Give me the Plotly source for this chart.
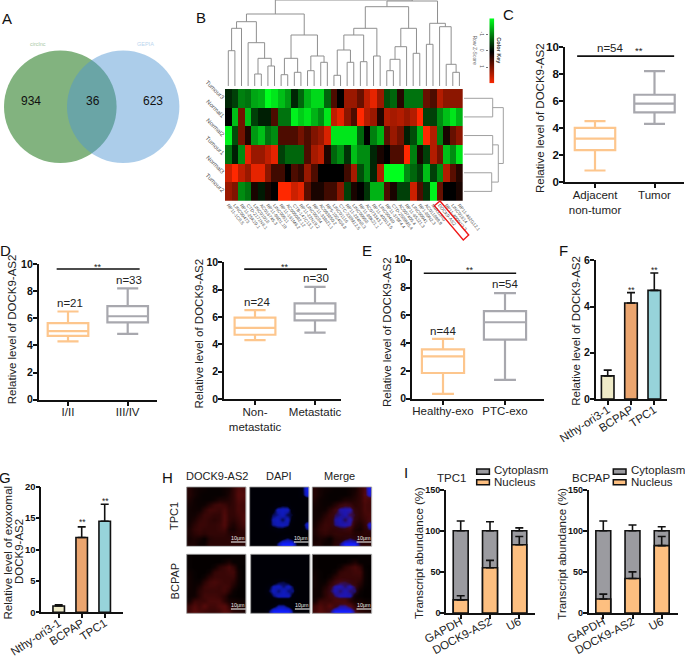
import plotly.graph_objects as go

W, H = 685, 657
FONT = "Liberation Sans"
INK = "#222222"
ORANGE = "#FDC68D"
GREY = "#A8A8AE"

# ---------- data ----------
VENN_COUNTS = ["934", "36", "623"]
VENN_NAMES = ["circlnc", "GEPIA"]
Y_TITLE = "Relative level of DOCK9-AS2"

HEAT_ROWS = ["Tumour3", "Normal1", "Normal2", "Tumour1", "Normal3", "Tumour2"]
HEAT_COLS = ["RP11-1C8.5", "LINC00473", "RP11-25K19.1", "CTD-2171N6.1", "LINC01018", "AC016745.3",
             "RP11-96D1.10", "LINC00511", "RP11-161M6.2", "AC005082.12", "CTB-147C13.1", "RP11-22N19.2",
             "LINC00284", "RP11-338I21.1", "AC093850.2", "RP5-1024G6.8", "LINC01116", "CTC-338M12.5",
             "RP11-284N8.3", "LINC00958", "RP11-89K21.1", "AC073343.1", "RP11-403I13.5", "LINC00460",
             "RP11-379F4.4", "CTD-2589M5.4", "AC007405.4", "RP11-65J21.3", "LINC00941", "RP1-80N2.3",
             "AC011899.9", "MIR31HG", "DOCK9-AS2", "RP11-400N13.3", "LINC01614", "RP11-462G12.1"]
HEAT_Z = [
    [.15, .25, .5, .45, .65, .7, 1, .9, .75, .6, .15, .4, .7, .85, .85, .4, -.3, 0, -.6, -.6, -.4, -.75, -.9, -.6, .3, .4, -.15, .45, .45, .45, -.4, -.3, -.7, -.55, -.55, -.55],
    [0, .75, -.45, .75, .25, .12, .12, -.3, .45, .45, .95, .8, .9, .7, .55, .9, -.75, -.9, -.55, -.3, -1, -.7, -.6, -.12, -.7, -.65, -.7, -.6, -.7, -1, .25, .25, .55, .75, .9, .7],
    [.95, .3, -.45, -.12, .6, .75, .45, .55, -.3, -.3, -.3, -.45, -.3, -.5, -.6, -.85, .9, .9, .9, .9, .4, 0, .5, .7, -.35, -.6, -.45, .12, .3, .7, -1, -.7, .5, -.1, -.4, -.55],
    [.45, .12, .55, -.9, -.6, -.6, -.75, -.9, .25, .4, .4, .4, -.3, -.65, -.75, -.12, .4, .55, .2, .75, .55, .55, .15, -.1, 0, -.3, -.3, -1, .5, -.1, .25, -.7, -.45, .75, .55, .9],
    [-.8, -1, -.75, -.6, -.9, -.9, -.55, -.25, -.25, 0, -.3, -.2, -.6, -.3, 0, 0, 0, 0, -.25, -.65, .3, .55, .15, -.7, 1, 1, 1, .55, .4, .25, .75, .25, .55, -.7, -.35, -.15],
    [-.6, -.5, .55, .45, -.1, .1, -.1, 0, -1, -1, -.8, -.9, -.35, -.1, -.1, -.25, -.25, -.55, .25, -.1, 0, .2, .7, .7, -.3, -.1, .25, .25, -.8, -.3, .2, .95, -.4, 0, 0, -.1],
]
COLOR_KEY = [[-1], [-.75], [-.5], [-.25], [0], [.25], [.5], [.75], [1]]

# dendrogram merges: two child ids (leaves first, then merged nodes) and merge height
TOP_LEFT = [0, 36, 4, 6, 38, 3, 37, 8, 10, 43, 12, 14, 46, 45, 42, 16, 18, 51, 20, 53, 22, 55, 24, 58, 59, 28, 60, 57, 30, 34, 33, 32, 64, 63, 50]
TOP_RIGHT = [1, 2, 5, 7, 39, 40, 41, 9, 11, 44, 13, 15, 47, 48, 49, 17, 19, 52, 21, 54, 23, 56, 25, 26, 27, 29, 61, 62, 31, 35, 65, 66, 67, 68, 69]
TOP_HEIGHT = [35.3, 57.7, 12, 20, 27.7, 43.3, 64.3, 11.3, 13.7, 27.7, 15.3, 23.7, 30, 51, 72, 10.7, 23.7, 36, 24.3, 51, 30, 57.7, 15.3, 26.7, 39.3, 32.7, 57.7, 79.3, 41.7, 13.7, 21.7, 59.3, 62.7, 85, 86]
SIDE_LEFT = [0, 2, 4, 7, 6]
SIDE_RIGHT = [1, 3, 5, 8, 9]
SIDE_HEIGHT = [28.7, 28.7, 27.7, 34.3, 39.3]

C_CATS = ["Adjacent<br>non-tumor", "Tumor"]
C_LOW, C_Q1, C_MED, C_Q3, C_HIGH = [.85, 4.3], [2.35, 5.15], [3.2, 5.8], [4.0, 6.45], [4.5, 8.2]
D1_CATS = ["I/II", "III/IV"]
D1_LOW, D1_Q1, D1_MED, D1_Q3, D1_HIGH = [4.3, 4.85], [4.7, 5.7], [5.05, 6.15], [5.65, 6.9], [6.5, 8.2]
D2_CATS = ["Non-<br>metastatic", "Metastatic"]
D2_LOW, D2_Q1, D2_MED, D2_Q3, D2_HIGH = [4.3, 4.85], [4.7, 5.75], [5.2, 6.25], [5.95, 7.0], [6.5, 8.2]
E_CATS = ["Healthy-exo", "PTC-exo"]
E_LOW, E_Q1, E_MED, E_Q3, E_HIGH = [.35, 1.35], [1.85, 4.25], [3.05, 5.5], [3.55, 6.3], [4.3, 7.6]

CELL_LINES = ["Nthy-ori3-1", "BCPAP", "TPC1"]
BAR_COLORS = ["#EFEBC8", "#EBA56F", "#97D3DA"]
F_MEAN, F_ERR = [1.0, 4.15, 4.7], [.25, .45, .75]
G_MEAN, G_ERR = [1.0, 11.9, 14.5], [.2, 1.7, 2.7]

GENES = ["GAPDH", "DOCK9-AS2", "U6"]
TPC1_NUC, TPC1_NUC_ERR, TPC1_CYT, TPC1_CYT_ERR = [16, 55, 83], [5, 9, 10], [100, 100, 100], [12, 11, 3.5]
BCPAP_NUC, BCPAP_NUC_ERR, BCPAP_CYT, BCPAP_CYT_ERR = [17, 42, 82], [6, 8, 11], [100, 100, 100], [12, 7, 5]

RED_TPC1 = [
    [.25, .15, .1, .08, .05, .05, .05, .1, .15, .35, .55, .5],
    [.25, .15, .08, .05, .05, .05, .05, .1, .2, .35, .6, .55],
    [.2, .1, .07, .05, .05, .1, .2, .2, .25, .35, .55, .5],
    [.15, .1, .07, .1, .25, .4, .45, .4, .3, .35, .5, .45],
    [.12, .1, .1, .3, .45, .45, .4, .5, .35, .35, .5, .45],
    [.12, .12, .25, .4, .4, .35, .35, .55, .35, .35, .45, .5],
    [.12, .2, .35, .4, .35, .3, .35, .55, .35, .3, .4, .5],
    [.15, .3, .4, .4, .35, .35, .4, .55, .3, .2, .35, .45],
    [.2, .35, .4, .35, .35, .35, .4, .45, .2, .15, .3, .35],
    [.2, .3, .35, .3, .35, .35, .35, .35, .25, .25, .3, .3],
    [.15, .2, .15, .05, .25, .3, .3, .3, .3, .3, .3, .3],
    [.2, .2, .1, .1, .3, .3, .3, .3, .3, .3, .3, .3],
]
BLUE_TPC1 = [
    [0, 0, 0, 0, 0, 0, 0, 0, 0, 0, .2, .9],
    [0, 0, 0, 0, 0, 0, 0, 0, 0, 0, .2, .8],
    [0, 0, 0, 0, 0, 0, 0, 0, 0, 0, 0, .05],
    [0, 0, 0, 0, 0, .15, .3, .25, 0, 0, 0, 0],
    [0, 0, 0, 0, .2, .65, .7, .7, .2, 0, 0, 0],
    [0, 0, 0, 0, .45, .55, .7, .45, .4, 0, 0, 0],
    [0, 0, 0, .05, .6, .7, .45, .7, .25, 0, 0, .2],
    [0, 0, 0, .05, .55, .65, .7, .6, .05, 0, 0, .8],
    [0, 0, 0, 0, .1, .3, .3, .1, 0, 0, 0, .5],
    [0, 0, 0, 0, 0, 0, 0, 0, 0, 0, 0, 0],
    [0, 0, 0, 0, 0, 0, .3, .5, .3, 0, 0, 0],
    [0, 0, 0, 0, 0, .5, 1, 1, 1, .4, 0, 0],
]
RED_BCPAP = [
    [.05, .03, .03, .03, .03, .03, .03, .03, .03, .05, .05, .05],
    [.05, .03, .03, .03, .03, .03, .03, .1, .2, .05, .05, .05],
    [.05, .03, .03, .03, .03, .1, .3, .4, .5, .35, .05, .03],
    [.1, .05, .03, .03, .1, .35, .4, .4, .45, .45, .1, .03],
    [.12, .05, .03, .1, .3, .4, .4, .4, .4, .4, .1, .03],
    [.12, .07, .08, .3, .45, .5, .45, .4, .4, .3, .08, .03],
    [.12, .08, .2, .4, .45, .45, .4, .45, .4, .2, .05, .03],
    [.1, .1, .3, .4, .4, .4, .4, .45, .3, .08, .03, .03],
    [.1, .12, .3, .45, .45, .45, .4, .3, .1, .05, .03, .03],
    [.15, .4, .4, .4, .5, .5, .5, .3, .15, .15, .1, .08],
    [.4, .55, .45, .6, .45, .45, .55, .6, .35, .25, .2, .15],
    [.45, .6, .5, .45, .4, .4, .45, .6, .5, .3, .25, .2],
]
BLUE_BCPAP = [
    [0, 0, 0, 0, 0, 0, 0, 0, 0, 0, 0, 0],
    [0, 0, 0, 0, 0, 0, 0, 0, 0, 0, 0, 0],
    [0, 0, 0, 0, 0, 0, 0, 0, 0, 0, 0, 0],
    [0, 0, 0, 0, 0, 0, 0, 0, 0, 0, 0, 0],
    [0, 0, 0, 0, 0, 0, 0, 0, 0, 0, 0, 0],
    [0, 0, 0, 0, .2, .4, .45, .3, 0, 0, 0, 0],
    [0, 0, 0, .25, .65, .7, .5, .7, .4, 0, 0, 0],
    [0, 0, 0, .4, .7, .5, .7, .5, .55, 0, 0, 0],
    [0, 0, 0, .1, .5, .7, .7, .7, .2, 0, 0, 0],
    [0, 0, 0, 0, 0, 0, 0, 0, 0, 0, 0, 0],
    [0, 0, 0, 0, .2, .6, .6, .3, 0, 0, 0, 0],
    [0, 0, 0, .4, 1, 1, 1, 1, .4, 0, 0, 0],
]

# ---------- helpers ----------
layout = dict(width=W, height=H, autosize=False, margin=dict(l=0, r=0, t=0, b=0, pad=0, autoexpand=False),
              paper_bgcolor="white", plot_bgcolor="rgba(0,0,0,0)", showlegend=False,
              boxmode="overlay", barmode="overlay", font=dict(family=FONT, color=INK),
              shapes=[], annotations=[])
traces = []
next_axis = [2]


def px(x):
    return x / W


def py(y):
    return 1 - y / H


def text(x, y, s, size=11.5, color=INK, angle=0, anchor="center", bold=False):
    layout["annotations"].append(dict(
        x=px(x), y=py(y), xref="paper", yref="paper", text=f"<b>{s}</b>" if bold else s, showarrow=False,
        xanchor=anchor, yanchor="middle", textangle=angle, font=dict(size=size, color=color, family=FONT)))


def rect(x0, y0, x1, y1, fill="rgba(0,0,0,0)", line="#111111", width=1.5):
    layout["shapes"].append(dict(type="rect", xref="paper", yref="paper", x0=px(x0), x1=px(x1), y0=py(y0), y1=py(y1),
                                 fillcolor=fill, line=dict(color=line, width=width)))


def new_axes(left, right, top, bottom, xcfg, ycfg):
    n = next_axis[0]
    next_axis[0] += 1
    layout[f"xaxis{n}"] = dict(domain=[px(left), px(right)], anchor=f"y{n}", **xcfg)
    layout[f"yaxis{n}"] = dict(domain=[py(bottom), py(top)], anchor=f"x{n}", **ycfg)
    return f"x{n}", f"y{n}"


HIDDEN = dict(visible=False, showgrid=False, zeroline=False)


def chart_axes(left, right, top, bottom, t0, dt, cats, ymax, ytick, angle=0, xshift=-3, ysize=10.5):
    base = dict(showline=True, linecolor="#111111", linewidth=1.6, ticks="outside", ticklen=4, tickwidth=1.5,
                tickcolor="#111111", showgrid=False, zeroline=False)
    xc = dict(base, tickmode="array", tickvals=list(range(len(cats))), ticktext=cats,
              range=[(left - t0) / dt, (right - t0) / dt], tickangle=angle, ticklabelstandoff=xshift,
              tickfont=dict(size=11.5, color=INK, family=FONT))
    yc = dict(base, range=[0, ymax], dtick=ytick, tickprefix="<b>", ticksuffix="</b>", ticklabelstandoff=-2,
              tickfont=dict(size=ysize, color="#111111", family=FONT))
    return new_axes(left, right, top, bottom, xc, yc)


def box_chart(rect_px, t0, dt, cats, low, q1, med, q3, high, sig_y, sig_x, bw=.68, ysize=10.5):
    left, right, top, bottom = rect_px
    xa, ya = chart_axes(left, right, top, bottom, t0, dt, cats, 10, 2, ysize=ysize)
    for i, color in enumerate([ORANGE, GREY]):
        traces.append(go.Box(x=[i], q1=[q1[i]], median=[med[i]], q3=[q3[i]], lowerfence=[low[i]],
                             upperfence=[high[i]], width=bw, whiskerwidth=.52, boxpoints=False,
                             line=dict(color=color, width=2.2), fillcolor="rgba(0,0,0,0)", xaxis=xa, yaxis=ya))
    traces.append(go.Scatter(x=list(sig_x), y=[sig_y, sig_y], mode="lines",
                             line=dict(color="#111111", width=1.6), xaxis=xa, yaxis=ya, hoverinfo="skip"))


def bar_chart(rect_px, t0, dt, means, errs, ymax, ytick, bw, ysize):
    left, right, top, bottom = rect_px
    xa, ya = chart_axes(left, right, top, bottom, t0, dt, CELL_LINES, ymax, ytick, -33, -6, ysize)
    traces.append(go.Bar(x=list(range(len(means))), y=means, width=bw,
                         marker=dict(color=BAR_COLORS, line=dict(color="#111111", width=1.6)),
                         error_y=dict(type="data", symmetric=False, array=errs, arrayminus=[0] * len(errs),
                                      color="#111111", thickness=1.6, width=4),
                         xaxis=xa, yaxis=ya))


def stack_chart(rect_px, t0, dt, nuc, nuc_err, cyt, cyt_err, bw):
    left, right, top, bottom = rect_px
    xa, ya = chart_axes(left, right, top, bottom, t0, dt, GENES, 150, 50, -28, -8, 9)
    for vals, errs, color in [(cyt, cyt_err, "#9B9BA0"), (nuc, nuc_err, "#FDBF80")]:
        traces.append(go.Bar(x=list(range(len(vals))), y=vals, width=bw,
                             marker=dict(color=color, line=dict(color="#111111", width=1.6)),
                             error_y=dict(type="data", symmetric=False, array=errs, arrayminus=[0] * 3,
                                          color="#111111", thickness=1.6, width=4),
                             xaxis=xa, yaxis=ya))


# ---------- A: Venn ----------
layout["shapes"].append(dict(type="circle", xref="paper", yref="paper", x0=px(4), x1=px(116.6), y0=py(50.4), y1=py(163),
                             fillcolor="rgb(130,179,127)", line=dict(width=0)))
layout["shapes"].append(dict(type="circle", xref="paper", yref="paper", x0=px(67), x1=px(179.4), y0=py(50.4), y1=py(163),
                             fillcolor="rgba(79,149,211,0.47)", line=dict(width=0)))
for x, s in zip([30.7, 92.7, 152.7], VENN_COUNTS):
    text(x, 100.5, s, 12, "#111111")
text(37.7, 43.7, VENN_NAMES[0], 5.5, "#A9C9A6")
text(145, 43.7, VENN_NAMES[1], 5.5, "#BBD5EE")

# ---------- B: heatmap and dendrograms ----------
SCALE = [[0, "rgb(255,40,0)"], [.5, "rgb(0,0,0)"], [1, "rgb(0,255,30)"]]
n_cols, n_rows = len(HEAT_COLS), len(HEAT_ROWS)
xh, yh = new_axes(225, 462.7, 89, 200.7,
                  dict(range=[-.5, n_cols - .5], tickmode="array", tickvals=list(range(n_cols)), ticktext=HEAT_COLS,
                       tickangle=52, tickfont=dict(size=4.6, color="#555555", family=FONT), ticks="",
                       showgrid=False, zeroline=False, showline=False),
                  dict(range=[n_rows - .5, -.5], tickmode="array", tickvals=list(range(n_rows)), ticktext=HEAT_ROWS,
                       tickangle=45, tickfont=dict(size=6, color="#555555", family=FONT), ticks="",
                       showgrid=False, zeroline=False, showline=False))
traces.append(go.Heatmap(z=HEAT_Z, zmin=-1, zmax=1, colorscale=SCALE, showscale=False, xaxis=xh, yaxis=yh,
                         x=list(range(n_cols)), y=list(range(n_rows))))


def links(left, right, height, n):
    pos, hgt, a, b = list(range(n)), [0] * n, [], []
    for l, r, h in zip(left, right, height):
        a += [pos[l], pos[l], pos[r], pos[r], None]
        b += [hgt[l], h, h, hgt[r], None]
        pos.append((pos[l] + pos[r]) / 2)
        hgt.append(h)
    return a, b


xt, yt = new_axes(225, 462.7, 0, 86, dict(HIDDEN, range=[-.5, n_cols - .5]), dict(HIDDEN, range=[0, 86]))
a, b = links(TOP_LEFT, TOP_RIGHT, TOP_HEIGHT, n_cols)
traces.append(go.Scatter(x=a, y=b, mode="lines", line=dict(color="#8F8F8F", width=1), xaxis=xt, yaxis=yt, hoverinfo="skip", cliponaxis=False))
xs, ys = new_axes(464, 504, 89, 200.7, dict(HIDDEN, range=[0, 40]), dict(HIDDEN, range=[n_rows - .5, -.5]))
a, b = links(SIDE_LEFT, SIDE_RIGHT, SIDE_HEIGHT, n_rows)
traces.append(go.Scatter(x=b, y=a, mode="lines", line=dict(color="#A0A0A0", width=1), xaxis=xs, yaxis=ys, hoverinfo="skip"))

xk, yk = new_axes(489.3, 494.3, 18.3, 83.3, dict(HIDDEN, range=[-.5, .5]),
                  dict(range=[-1, 1], tickmode="array", tickvals=[.5, 0, -.5], ticktext=["-1", "0", "1"], tickangle=90,
                       tickfont=dict(size=5, color="#555555", family=FONT), ticks="outside", ticklen=2, tickwidth=.5,
                       tickcolor="#777777", showgrid=False, zeroline=False, showline=False))
traces.append(go.Heatmap(z=COLOR_KEY, y=[r[0] for r in COLOR_KEY], x=[0], zmin=-1, zmax=1, colorscale=SCALE, showscale=False,
                         zsmooth="best", xaxis=xk, yaxis=yk))
text(498.7, 51, "Color Key", 5.5, "#333333", 90, bold=True)
text(474.5, 50, "Row Z-Score", 5, "#666666", 90)
layout["shapes"].append(dict(type="path", xref="paper", yref="paper",
                             path=f"M {px(434.3)} {py(205.7)} L {px(440)} {py(201)} L {px(468.7)} {py(235)} L {px(463.3)} {py(240)} Z",
                             line=dict(color="#F01818", width=1.4), fillcolor="rgba(0,0,0,0)"))

# ---------- C, D, E: boxes ----------
box_chart((565, 684, 46.7, 182), 595, 59.5, C_CATS, C_LOW, C_Q1, C_MED, C_Q3, C_HIGH, 9.3, (-.3, 1.33), ysize=11.5)
text(540, 118, Y_TITLE, angle=-90)
text(610.7, 48, "n=54", 11.5)
text(639, 51, "**", 9.5)
box_chart((38.7, 157.3, 264, 399.7), 68, 59.7, D1_CATS, D1_LOW, D1_Q1, D1_MED, D1_Q3, D1_HIGH, 9.63, (-.19, 1.2))
text(11.7, 329.5, Y_TITLE, angle=-90)
text(70, 302.7, "n=21", 11.5)
text(129, 280, "n=33", 11.5)
text(98, 267, "**", 9)
box_chart((224, 341, 262.3, 399), 255, 60, D2_CATS, D2_LOW, D2_Q1, D2_MED, D2_Q3, D2_HIGH, 9.5, (-.18, 1.2))
text(198, 333.5, Y_TITLE, angle=-90)
text(257, 302, "n=24", 11.5)
text(316, 277.7, "n=30", 11.5)
text(285, 267, "**", 9)
box_chart((412, 544, 259.7, 398.7), 443, 62, E_CATS, E_LOW, E_Q1, E_MED, E_Q3, E_HIGH, 9.02, (-.31, 1.18))
text(387, 332, Y_TITLE, angle=-90)
text(443, 330.7, "n=44", 11.5)
text(505.7, 284, "n=54", 11.5)
text(470, 270, "**", 9)

# ---------- F, G: bars ----------
bar_chart((595.7, 666.7, 260.3, 399), 607.7, 23.3, F_MEAN, F_ERR, 6, 2, .54, 10.5)
text(576, 330.7, Y_TITLE, angle=-90)
text(631, 290, "**", 8.5)
text(654.3, 270, "**", 8.5)
bar_chart((41.3, 122.7, 486.7, 612.3), 58.7, 23, G_MEAN, G_ERR, 20, 5, .5, 9.5)
text(7, 552.5, "Relative level of exoxomal", angle=-90)
text(19, 552, "DOCK9-AS2", angle=-90)
text(82, 522, "**", 8.5)
text(105, 501, "**", 8.5)

# ---------- H: fluorescence panels ----------
xf, yf = new_axes(0, W, 0, H, dict(HIDDEN, range=[0, W]), dict(HIDDEN, range=[H, 0]))
RED_SCALE = [[0, "rgb(0,0,0)"], [.3, "rgb(42,4,4)"], [.55, "rgb(80,10,10)"], [1, "rgb(130,15,15)"]]
BLUE_SCALE = [[0, "rgb(0,0,6)"], [.35, "rgb(0,0,14)"], [.6, "rgb(15,25,170)"], [1, "rgb(15,30,255)"]]
BLUE_ALPHA = [[0, "rgba(20,30,255,0)"], [.35, "rgba(20,30,255,0.05)"], [.6, "rgba(20,30,255,0.6)"], [1, "rgba(20,30,255,1)"]]


def panel(x0, y0, x1, y1, layers):
    for z, scale in layers:
        n = len(z)
        traces.append(go.Heatmap(z=z, x0=x0 + (x1 - x0) / (2 * n), dx=(x1 - x0) / n, y0=y0 + (y1 - y0) / (2 * n),
                                 dy=(y1 - y0) / n, zmin=0, zmax=1, zsmooth="best", colorscale=scale, showscale=False,
                                 xaxis=xf, yaxis=yf, hoverinfo="skip"))
    rect(x0, y0, x1, y1, line="#9A9A9A", width=.8)
    rect(x1 - 15, y1 - 4.6, x1 - .5, y1 - 4, fill="#EEEEEE", line="#EEEEEE", width=.4)
    text(x1 - 8, y1 - 8.5, "10μm", 5.4, "#EEEEEE")


panel(186.7, 487, 246, 546.3, [(RED_TPC1, RED_SCALE)])
panel(249.7, 487, 309, 546.3, [(BLUE_TPC1, BLUE_SCALE)])
panel(312.3, 487, 371.7, 546.3, [(RED_TPC1, RED_SCALE), (BLUE_TPC1, BLUE_ALPHA)])
panel(186.7, 554.3, 246, 613.3, [(RED_BCPAP, RED_SCALE)])
panel(250.7, 554.3, 310, 613.3, [(BLUE_BCPAP, BLUE_SCALE)])
panel(312.3, 554.3, 371.7, 613.3, [(RED_BCPAP, RED_SCALE), (BLUE_BCPAP, BLUE_ALPHA)])
text(216.7, 476, "DOCK9-AS2", 11)
text(279.3, 476, "DAPI", 11)
text(339.3, 476, "Merge", 11)
text(174, 516, "TPC1", 11, angle=-90)
text(174.7, 581.7, "BCPAP", 11, angle=-90)

# ---------- I: stacked bars ----------
stack_chart((446, 535, 489.7, 613), 460.7, 29.3, TPC1_NUC, TPC1_NUC_ERR, TPC1_CYT, TPC1_CYT_ERR, .51)
stack_chart((588.7, 678, 489.7, 613), 603.3, 29.2, BCPAP_NUC, BCPAP_NUC_ERR, BCPAP_CYT, BCPAP_CYT_ERR, .51)
text(419, 553, "Transcript abundance (%)", angle=-90)
text(561.7, 554, "Transcript abundance (%)", angle=-90)
for title, tx, sx, lx in [("TPC1", 452, 476.7, 491.7), ("BCPAP", 591, 613.3, 628.7)]:
    text(tx, 477.7, title, 11.5)
    rect(sx, 469, sx + 12.7, 474.3, fill="#9B9BA0")
    rect(sx, 479.7, sx + 12.7, 484.7, fill="#FDBF80")
    text(lx, 470, "Cytoplasm", 11.5, anchor="left")
    text(lx, 482, "Nucleus", 11.5, anchor="left")

# ---------- panel letters ----------
for s, x, y in [("A", 7, 19), ("B", 201, 17), ("C", 508, 14), ("D", 5, 251), ("E", 367, 251), ("F", 563, 251),
                ("G", 5, 477), ("H", 167, 477), ("I", 406, 472)]:
    text(x, y, s, 15, "#111111")

fig = go.Figure(data=traces, layout=layout)
fig.write_html("out.html", config={"displayModeBar": False},
               post_script="document.body.style.margin='0';document.body.style.overflow='hidden';")
